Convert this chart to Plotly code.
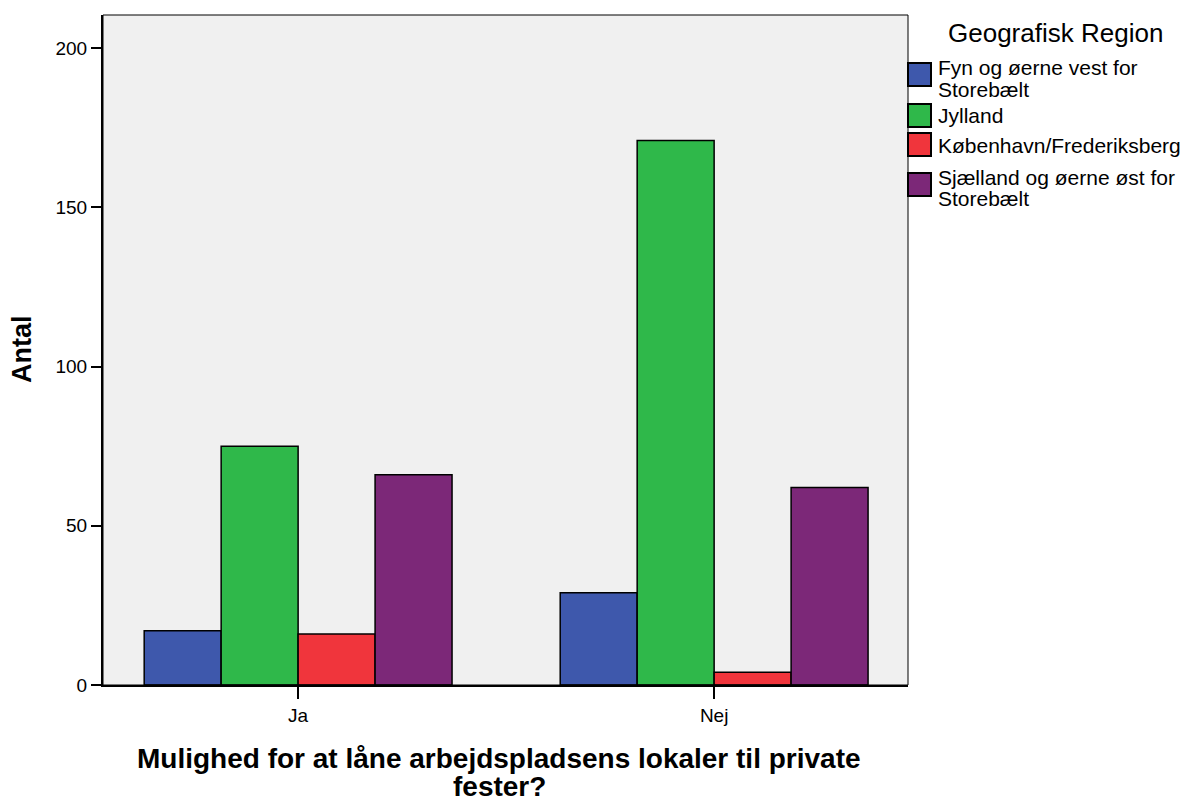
import plotly.graph_objects as go

categories = ["Ja", "Nej"]
regions = [
    "Fyn og øerne vest for Storebælt",
    "Jylland",
    "København/Frederiksberg",
    "Sjælland og øerne øst for Storebælt",
]
legend_lines = [
    ["Fyn og øerne vest for", "Storebælt"],
    ["Jylland"],
    ["København/Frederiksberg"],
    ["Sjælland og øerne øst for", "Storebælt"],
]
fyn = [17, 29]
jylland = [75, 171]
kbh = [16, 4]
sjaelland = [66, 62]
series = [fyn, jylland, kbh, sjaelland]
colors = ["#3e58ac", "#2fb84a", "#f0353c", "#7c2878"]

x_title_lines = ["Mulighed for at låne arbejdspladsens lokaler til private", "fester?"]
y_title = "Antal"
legend_title = "Geografisk Region"

W, H = 1198, 802
L, R, T, B = 103, 908, 15, 685
FONT = "Liberation Sans, Arial, sans-serif"


def px(xp):
    return (xp - L) / (R - L)


def py(yp):
    return (B - yp) / (B - T)


fig = go.Figure()
for name, vals, col in zip(regions, series, colors):
    fig.add_trace(go.Bar(
        x=categories, y=vals, name=name,
        marker=dict(color=col, line=dict(color="black", width=1.5)),
        showlegend=False,
    ))

shapes = [dict(type="rect", xref="paper", yref="paper", x0=0, x1=1, y0=0, y1=1,
               line=dict(color="black", width=1), fillcolor="rgba(0,0,0,0)", layer="above")]
annotations = []

# legend title
annotations.append(dict(text=legend_title, xref="paper", yref="paper",
                        x=px(1055), y=py(33), xanchor="center", yanchor="middle",
                        showarrow=False, font=dict(family=FONT, size=26, color="black")))

swatch_tops = [63, 104, 133, 173]
line_centers = [[68, 89], [116], [145], [177, 199]]
for i, (lines, col) in enumerate(zip(legend_lines, colors)):
    t = swatch_tops[i]
    shapes.append(dict(type="rect", xref="paper", yref="paper",
                       x0=px(908), x1=px(931), y0=py(t + 23), y1=py(t),
                       fillcolor=col, line=dict(color="black", width=2)))
    for ln, yc in zip(lines, line_centers[i]):
        annotations.append(dict(text=ln, xref="paper", yref="paper",
                                x=px(936), y=py(yc), xanchor="left", yanchor="middle",
                                showarrow=False, font=dict(family=FONT, size=21, color="black")))

# x title
for ln, yc in zip(x_title_lines, [758, 786]):
    annotations.append(dict(text="<b>" + ln + "</b>", xref="paper", yref="paper",
                            x=px(499), y=py(yc), xanchor="center", yanchor="middle",
                            showarrow=False, font=dict(family=FONT, size=28, color="black")))

# y title
annotations.append(dict(text="<b>" + y_title + "</b>", xref="paper", yref="paper",
                        x=px(22), y=py(349), xanchor="center", yanchor="middle", textangle=-90,
                        showarrow=False, font=dict(family=FONT, size=27, color="black")))

fig.update_layout(
    width=W, height=H,
    margin=dict(l=L, r=W - R, t=T, b=H - B, pad=0),
    paper_bgcolor="white", plot_bgcolor="#f0f0f0",
    barmode="group", bargap=0.26, bargroupgap=0,
    font=dict(family=FONT, color="black"),
    shapes=shapes, annotations=annotations,
)
fig.update_xaxes(
    type="category", range=[-0.469, 1.466],
    showline=True, linecolor="black", linewidth=2,
    ticks="outside", ticklen=12, tickwidth=1.5, tickcolor="black",
    tickfont=dict(family=FONT, size=19, color="black"),
    showgrid=False, zeroline=False,
)
fig.update_yaxes(
    range=[0, 210.4], tickvals=[0, 50, 100, 150, 200],
    showline=True, linecolor="black", linewidth=2,
    ticks="outside", ticklen=10, tickwidth=1.5, tickcolor="black",
    tickfont=dict(family=FONT, size=19, color="black"),
    showgrid=False, zeroline=False,
)

fig.write_html("out.html", config={"displayModeBar": False},
               post_script="document.body.style.margin='0';")
